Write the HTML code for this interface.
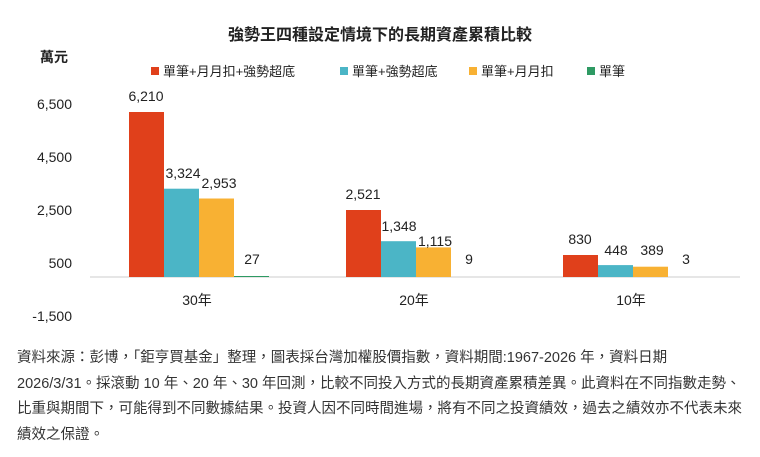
<!DOCTYPE html>
<html><head><meta charset="utf-8"><style>
body{margin:0;background:#fff;width:760px;height:457px;overflow:hidden;font-family:"Liberation Sans","Noto Sans CJK TC",sans-serif;}
.note{position:absolute;left:17px;top:346px;width:745px;font-size:14.5px;line-height:25.5px;color:#333;white-space:nowrap;}
</style></head><body>
<svg width="760" height="340" style="position:absolute;left:0;top:0" font-family="Liberation Sans, Noto Sans CJK TC, sans-serif">
<text x="380" y="40" font-size="16" text-anchor="middle" fill="#222" font-weight="bold">強勢王四種設定情境下的長期資產累積比較</text>
<text x="40" y="62" font-size="14" fill="#222" font-weight="bold">萬元</text>
<g font-size="13" fill="#222">
<rect x="151" y="67" width="8" height="8" fill="#e0401b"/><text x="163" y="76">單筆+月月扣+強勢超底</text>
<rect x="340" y="67" width="8" height="8" fill="#4bb5c6"/><text x="352" y="76">單筆+強勢超底</text>
<rect x="469" y="67" width="8" height="8" fill="#f8b133"/><text x="481" y="76">單筆+月月扣</text>
<rect x="587" y="67" width="8" height="8" fill="#2e9a63"/><text x="599" y="76">單筆</text>
</g>
<g font-size="14" fill="#222" text-anchor="end">
<text x="72" y="109">6,500</text><text x="72" y="162">4,500</text><text x="72" y="215">2,500</text><text x="72" y="268">500</text><text x="72" y="321">-1,500</text>
</g>
<line x1="90" y1="277" x2="740" y2="277" stroke="#ddd" stroke-width="1.5"/>
<g>
<rect x="129" y="112" width="35" height="165" fill="#e0401b"/>
<rect x="164" y="188.7" width="35" height="88.3" fill="#4bb5c6"/>
<rect x="199" y="198.5" width="35" height="78.5" fill="#f8b133"/>
<rect x="234" y="276" width="35" height="1" fill="#2e9a63"/>
<rect x="346" y="210" width="35" height="67" fill="#e0401b"/>
<rect x="381" y="241.2" width="35" height="35.8" fill="#4bb5c6"/>
<rect x="416" y="247.4" width="35" height="29.6" fill="#f8b133"/>
<rect x="563" y="255" width="35" height="22" fill="#e0401b"/>
<rect x="598" y="265.1" width="35" height="11.9" fill="#4bb5c6"/>
<rect x="633" y="266.7" width="35" height="10.3" fill="#f8b133"/>
</g>
<g font-size="14" fill="#222" text-anchor="middle">
<text x="146" y="101">6,210</text><text x="183" y="178">3,324</text><text x="219" y="188">2,953</text><text x="252" y="264">27</text>
<text x="363" y="199">2,521</text><text x="399" y="231">1,348</text><text x="435" y="246">1,115</text><text x="469" y="264">9</text>
<text x="580" y="244">830</text><text x="616" y="255">448</text><text x="652" y="255">389</text><text x="686" y="264">3</text>
<text x="197" y="305">30年</text><text x="414" y="305">20年</text><text x="631" y="305">10年</text>
</g>
</svg>
<div class="note">資料來源：彭博，「鉅亨買基金」整理，圖表採台灣加權股價指數，資料期間:1967-2026 年，資料日期<br>2026/3/31。採滾動 10 年、20 年、30 年回測，比較不同投入方式的長期資產累積差異。此資料在不同指數走勢、<br>比重與期間下，可能得到不同數據結果。投資人因不同時間進場，將有不同之投資績效，過去之績效亦不代表未來<br>績效之保證。</div>
</body></html>
